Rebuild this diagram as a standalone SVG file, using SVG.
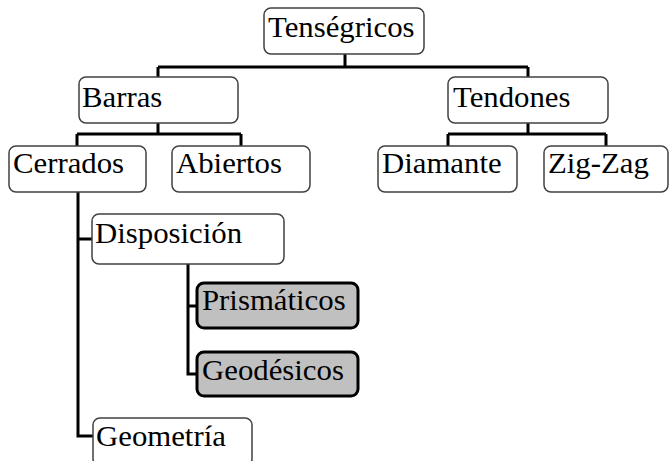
<svg xmlns="http://www.w3.org/2000/svg" width="669" height="461" viewBox="0 0 669 461">
<style>
.n{fill:#fff;stroke:#404040;stroke-width:1.5}
.h{fill:#c0c0c0;stroke:#000;stroke-width:3}
text{font-family:'Liberation Serif','Times New Roman',serif;font-size:28.5px;fill:#000}
.c{fill:none;stroke:#000;stroke-width:3}
</style>
<rect width="669" height="461" fill="#fff"/>
<g id="connectors">
<path class="c" d="M345 54V67M158 67H528M158 67V77M528 67V77"/>
<path class="c" d="M158 123V134M77 134H241M77 134V146M241 134V146"/>
<path class="c" d="M528 123V134M448 134H606M448 134V146M606 134V146"/>
<path class="c" d="M78 192V436H93M78 239H92"/>
<path class="c" d="M188 264V374H197M188 306H197"/>
</g>
<g id="tensegricos"><rect class="n" x="264" y="8" width="160" height="46" rx="7"/><text transform="translate(268 37) scale(1.08 1)">Tenségricos</text></g>
<g id="barras"><rect class="n" x="79" y="77" width="159" height="46" rx="7"/><text transform="translate(82 107) scale(1.08 1)">Barras</text></g>
<g id="tendones"><rect class="n" x="448" y="77" width="160" height="46" rx="7"/><text transform="translate(453 107) scale(1.08 1)">Tendones</text></g>
<g id="cerrados"><rect class="n" x="9" y="146" width="137" height="46" rx="7"/><text transform="translate(13 173) scale(1.08 1)">Cerrados</text></g>
<g id="abiertos"><rect class="n" x="172" y="146" width="138" height="46" rx="7"/><text transform="translate(176 173) scale(1.08 1)">Abiertos</text></g>
<g id="diamante"><rect class="n" x="378" y="146" width="139" height="46" rx="7"/><text transform="translate(382 173) scale(1.08 1)">Diamante</text></g>
<g id="zigzag"><rect class="n" x="544" y="146" width="124" height="46" rx="7"/><text transform="translate(548 173) scale(1.08 1)">Zig-Zag</text></g>
<g id="disposicion"><rect class="n" x="92" y="214" width="192" height="50" rx="7"/><text transform="translate(95 243) scale(1.08 1)">Disposición</text></g>
<g id="prismaticos"><rect class="h" x="197" y="283" width="161" height="45" rx="7"/><text transform="translate(202 310) scale(1.08 1)">Prismáticos</text></g>
<g id="geodesicos"><rect class="h" x="197" y="352" width="161" height="44" rx="7"/><text transform="translate(202 380) scale(1.08 1)">Geodésicos</text></g>
<g id="geometria"><rect class="n" x="93" y="418" width="159" height="48" rx="7"/><text transform="translate(96 446) scale(1.08 1)">Geometría</text></g>
</svg>
